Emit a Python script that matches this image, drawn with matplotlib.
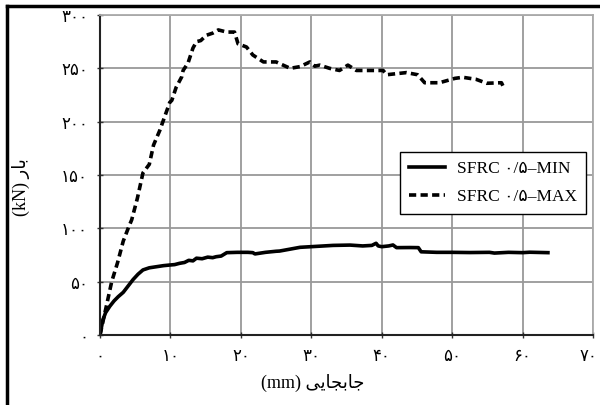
import matplotlib.pyplot as plt
from matplotlib.lines import Line2D
from matplotlib.transforms import ScaledTranslation

plt.rcParams['font.family'] = ['Liberation Serif', 'DejaVu Sans']

# displacement (mm) / load (kN)
min_disp = [0, 0.4, 0.8, 1.4, 2.0, 2.6, 3.3, 4.0, 4.7, 5.4, 6.1, 7.0, 8.0, 9.0, 9.9,
            10.6, 11.3, 12.0, 12.6, 13.2, 13.7, 14.5, 15.3, 16.0, 16.5, 17.2, 18.0,
            19.5, 21.0, 21.7, 22.0, 23.5, 25.0, 25.5, 27.0, 28.4, 30.5, 33.1, 35.5,
            37.3, 38.6, 39.2, 39.5, 40.0, 41.0, 41.6, 42.1, 44.0, 45.2, 45.6, 47.8,
            50.0, 52.5, 55.3, 56.0, 58.0, 60.0, 61.0, 63.6]
min_load = [0, 14, 21, 27, 32, 36, 40, 46, 52, 57, 61, 63, 64, 65, 65.6,
            66, 67.2, 68, 70, 69.5, 72, 71.5, 73, 72.5, 73.4, 74, 77.2,
            77.5, 77.5, 77.2, 76, 77.5, 78.5, 78.7, 80.5, 82.2, 83, 84, 84.3,
            83.5, 84, 86, 83.5, 82.8, 83.5, 84.4, 81.9, 82, 81.9, 78, 77.5,
            77.5, 77.3, 77.5, 76.8, 77.5, 77.2, 77.6, 77.2]

max_disp = [0, 0.5, 1.0, 1.66, 2.5, 3.3, 4.0, 4.5, 5.3, 6.1, 7.0, 7.6, 8.5, 9.2,
            9.9, 10.2, 10.8, 11.6, 11.8, 12.5, 13.2, 13.7, 14.3, 15.1, 16.0, 16.8,
            17.4, 18.0, 19.1, 19.6, 20.8, 21.7, 23.2, 25.0, 27.0, 28.4, 29.8, 30.5,
            31.2, 32.6, 34.0, 35.2, 36.4, 38.5, 40.2, 40.7, 43.5, 45.1, 46.1, 48.2,
            50.4, 51.5, 53.4, 54.9, 57.0, 57.2]
max_load = [0, 15, 30, 50, 68, 88, 100, 108, 128, 152, 160, 178, 192, 205,
            218, 220, 232, 242, 248, 255, 269, 275, 276, 281, 283, 286,
            285, 284, 284, 273, 270, 262.5, 256, 256, 250, 251.6, 256, 252,
            253, 250, 248, 253, 248, 248, 248, 244, 246, 244, 236.5, 236.5,
            240.6, 241.6, 239.7, 236, 236.5, 233.7]

x_ticks = [0, 10, 20, 30, 40, 50, 60, 70]
x_tick_labels = ['۰', '۱۰', '۲۰', '۳۰', '۴۰', '۵۰', '۶۰', '۷۰']
y_ticks = [0, 50, 100, 150, 200, 250, 300]
y_tick_labels = ['۰', '۵۰', '۱۰۰', '۱۵۰', '۲۰۰', '۲۵۰', '۳۰۰']

labels = ['SFRC ۰/۵–MIN', 'SFRC ۰/۵–MAX']

fig = plt.figure(figsize=(6, 4.05), dpi=100)
ax = fig.add_axes([100 / 600, 1 - 335 / 405, 493 / 600, 320 / 405])

ax.plot(min_disp, min_load, color='black', linewidth=2.6, solid_joinstyle='round')
ax.plot(max_disp, max_load, color='black', linewidth=2.6, linestyle=(0, (2.0, 1.2)))

ax.set_xlim(0, 70)
ax.set_ylim(0, 300)
ax.set_xticks(x_ticks)
ax.set_xticklabels(x_tick_labels, fontsize=12, family=['DejaVu Sans'])
ax.set_yticks(y_ticks)
ax.set_yticklabels(y_tick_labels, fontsize=12, family=['DejaVu Sans'])
ax.tick_params(direction='inout', length=5, width=1, color='#333333', pad=6)

# last x label sits at the figure edge, nudge it in a bit
last = ax.get_xticklabels()[-1]
last.set_transform(last.get_transform() + ScaledTranslation(-5 / 100, 0, fig.dpi_scale_trans))

ax.grid(True, color='#999999', linewidth=1.3)
ax.set_axisbelow(True)
for s in ['top', 'right']:
    ax.spines[s].set_color('#aaaaaa')
    ax.spines[s].set_linewidth(1.3)
for s in ['left', 'bottom']:
    ax.spines[s].set_color('#222222')
    ax.spines[s].set_linewidth(1.5)

handles = [Line2D([], [], color='black', linewidth=2.6),
           Line2D([], [], color='black', linewidth=2.6, linestyle=(0, (2.0, 1.2)))]
leg = ax.legend(handles, labels, loc='upper left', bbox_to_anchor=(300 / 493, 1 - 137 / 320),
                fontsize=12.5, frameon=True, fancybox=False, edgecolor='black',
                framealpha=1, handlelength=2.1, borderpad=0.5, labelspacing=0.7,
                handletextpad=0.7, borderaxespad=0)
leg.get_frame().set_linewidth(1.0)
for t in leg.get_texts():
    t.set_family(['Liberation Serif', 'DejaVu Sans'])

# Persian labels in presentation forms, visual order
fig.text(313 / 600, 1 - 383 / 405, '(mm) \uFEF0\uFEF3\uFE8E\uFEA0\uFE91\uFE8E\uFE9F',
         ha='center', va='center', fontsize=13, family=['Liberation Serif', 'DejaVu Sans'])
fig.text(21 / 600, 1 - 187 / 405, '(kN) \uFEAD\uFE8E\uFE91', rotation=90,
         ha='center', va='center', fontsize=13, family=['Liberation Serif', 'DejaVu Sans'])

# frame lines of the cropped figure
fig.add_artist(Line2D([7 / 600, 1], [1 - 6 / 405, 1 - 6 / 405], color='black', linewidth=2.5,
                      transform=fig.transFigure))
fig.add_artist(Line2D([7 / 600, 7 / 600], [0, 1 - 6 / 405], color='black', linewidth=2.5,
                      transform=fig.transFigure))

fig.savefig('out.png', dpi=100)
